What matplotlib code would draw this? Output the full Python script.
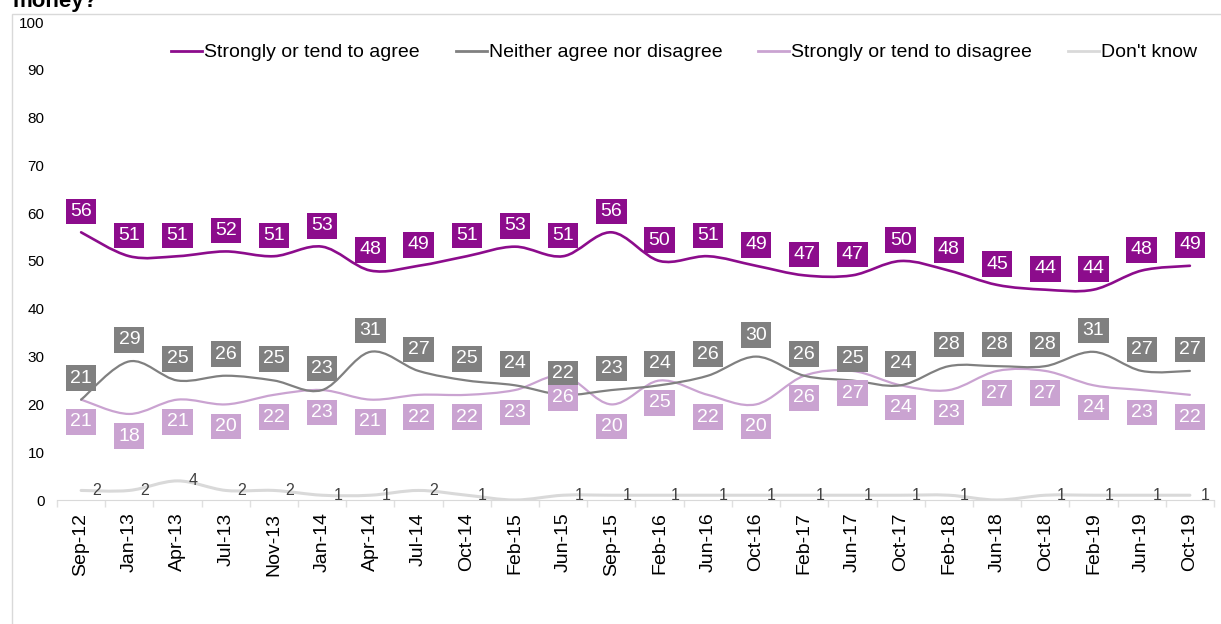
import numpy as np
import matplotlib
matplotlib.use("Agg")
import matplotlib.pyplot as plt
from matplotlib.path import Path
from matplotlib.patches import PathPatch, Rectangle
from matplotlib.lines import Line2D

plt.rcParams['font.family'] = ['Liberation Sans', 'DejaVu Sans']

dates = ['Sep-12', 'Jan-13', 'Apr-13', 'Jul-13', 'Nov-13', 'Jan-14', 'Apr-14', 'Jul-14',
         'Oct-14', 'Feb-15', 'Jun-15', 'Sep-15', 'Feb-16', 'Jun-16', 'Oct-16', 'Feb-17',
         'Jun-17', 'Oct-17', 'Feb-18', 'Jun-18', 'Oct-18', 'Feb-19', 'Jun-19', 'Oct-19']
agree = [56, 51, 51, 52, 51, 53, 48, 49, 51, 53, 51, 56, 50, 51, 49, 47, 47, 50, 48, 45, 44, 44, 48, 49]
neither = [21, 29, 25, 26, 25, 23, 31, 27, 25, 24, 22, 23, 24, 26, 30, 26, 25, 24, 28, 28, 28, 31, 27, 27]
disagree = [21, 18, 21, 20, 22, 23, 21, 22, 22, 23, 26, 20, 25, 22, 20, 26, 27, 24, 23, 27, 27, 24, 23, 22]
dont_know = [2, 2, 4, 2, 2, 1, 1, 2, 1, 0, 1, 1, 1, 1, 1, 1, 1, 1, 1, 0, 1, 1, 1, 1]

C_AGREE = '#8C0C8C'
C_NEITHER = '#808080'
C_DIS = '#CAA3D1'
C_DK = '#D9D9D9'


def smooth_path(xs, ys):
    # excel-style smoothed line as bezier segments
    pts = np.column_stack([xs, ys]).astype(float)
    n = len(pts)
    verts = [pts[0]]
    codes = [Path.MOVETO]
    for i in range(n - 1):
        p0 = pts[max(i - 1, 0)]
        p1 = pts[i]
        p2 = pts[i + 1]
        p3 = pts[min(i + 2, n - 1)]
        c1 = p1 + (p2 - p0) / 6.0
        c2 = p2 - (p3 - p1) / 6.0
        verts += [c1, c2, p2]
        codes += [Path.CURVE4] * 3
    return Path(verts, codes)


fig = plt.figure(figsize=(12.21, 6.24), dpi=100)
ax = fig.add_axes([57 / 1221, 124 / 624, 1157 / 1221, 478 / 624])

# outer chart border + cut-off title
fig.patches.append(Rectangle((12 / 1221, -0.01), 1.0, (624 - 14) / 624 + 0.01,
                             transform=fig.transFigure, fill=False,
                             edgecolor='#D9D9D9', linewidth=1.0))
fig.text(12 / 1221, 1 - 7 / 624, 'money?', fontsize=16, fontweight='bold',
         ha='left', va='baseline')

x = np.arange(len(dates))
series = [
    (agree, C_AGREE, 'Strongly or tend to agree', 1.9),
    (neither, C_NEITHER, 'Neither agree nor disagree', 1.6),
    (disagree, C_DIS, 'Strongly or tend to disagree', 1.6),
    (dont_know, C_DK, "Don't know", 2.2),
]
for vals, col, lab, lw in series[::-1]:
    ax.add_patch(PathPatch(smooth_path(x, vals), facecolor='none',
                           edgecolor=col, linewidth=lw, capstyle='round'))

# boxed data labels
for vals, col, dy in [(agree, C_AGREE, 15), (neither, C_NEITHER, 15.5), (disagree, C_DIS, -16)]:
    for xi, v in zip(x, vals):
        ax.annotate(str(v), (xi, v), xytext=(0, dy), textcoords='offset points',
                    ha='center', va='center', fontsize=14, color='white',
                    bbox=dict(boxstyle='square,pad=0.22', facecolor=col, edgecolor='none'))

for xi, v in zip(x, dont_know):
    if v > 0:
        ax.annotate(str(v), (xi, v), xytext=(8, 0), textcoords='offset points',
                    ha='left', va='center', fontsize=11.5, color='#404040')

ax.set_xlim(-0.5, len(dates) - 0.5)
ax.set_ylim(0, 100)
ax.set_yticks(range(0, 101, 10))
ax.tick_params(axis='y', length=0, labelsize=11, pad=9, colors='#000000')
ax.set_xticks(x)
ax.set_xticklabels(dates, rotation=90, fontsize=14)
ax.tick_params(axis='x', which='major', length=0, pad=9)
ax.set_xticks(np.arange(-0.5, len(dates), 1.0), minor=True)
ax.tick_params(axis='x', which='minor', length=5, color='#E0E0E0', width=1)

for s in ['top', 'right', 'left']:
    ax.spines[s].set_visible(False)
ax.spines['bottom'].set_color('#D9D9D9')

handles = [Line2D([], [], color=col, linewidth=2) for _, col, _, _ in series]
labels = [lab for _, _, lab, _ in series]
ax.legend(handles, labels, loc='center', bbox_to_anchor=(0.542, 0.936), ncol=4,
          frameon=False, fontsize=14, handlelength=1.6, handletextpad=0.1,
          columnspacing=1.85)

fig.savefig('out.png', dpi=100)
